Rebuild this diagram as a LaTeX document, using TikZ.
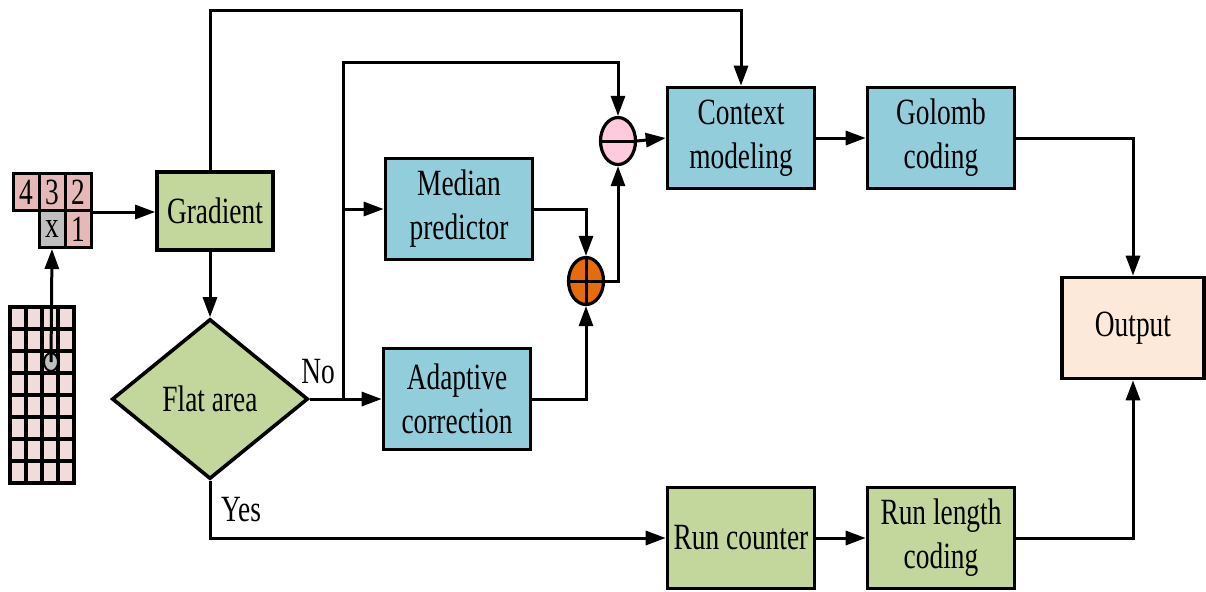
\documentclass[tikz,border=0pt]{standalone}
\usepackage{fontspec}
\setmainfont{Liberation Serif}[FakeStretch=0.74]
\usetikzlibrary{shapes.geometric, arrows.meta, positioning, calc}
\definecolor{boxblue}{HTML}{92CDDC}
\definecolor{boxgreen}{HTML}{C3D69B}
\definecolor{boxpeach}{HTML}{FDE9D9}
\definecolor{cellpink}{HTML}{E6B8B7}
\definecolor{gridpink}{HTML}{F2DCDB}
\definecolor{cellgray}{HTML}{BFBFBF}
\definecolor{plusorange}{HTML}{E46C0A}
\definecolor{minuspink}{HTML}{FFC9DE}
\tikzset{
    box/.style={draw=black, line width=1.8pt, fill=boxblue, align=center, minimum width=73.5pt, minimum height=50.5pt, inner sep=1pt},
    greenbox/.style={box, fill=boxgreen},
    cell/.style={draw=black, line width=1.5pt, fill=cellpink, minimum width=13pt, minimum height=18.5pt, inner sep=0pt},
    op/.style={ellipse, draw=black, line width=1.6pt, minimum width=17.5pt, minimum height=23.5pt, inner sep=0pt},
    arrow/.style={-{Triangle[length=10pt, width=7pt]}, line width=1.5pt},
    line/.style={line width=1.5pt}
}

\begin{document}
\begin{tikzpicture}[x=0.5pt, y=-0.5pt, font=\fontsize{18.5pt}{22pt}\selectfont]
        \useasboundingbox (0,0) rectangle (1206,591);
        % image grid
        \foreach \r in {0,...,7}
            \foreach \c in {0,...,3}
                \draw [line width=1.8pt, fill=gridpink] (10+16*\c, 307+22*\r) rectangle ++(16,22);
        \node [ellipse, draw=black, line width=1pt, fill=cellgray, minimum width=7pt, minimum height=9pt, inner sep=0pt] (dot) at (51,362) {};
        % neighbour template
        \node [cell] (c4) at (26,192) {4};
        \node [cell] (c3) at (52,192) {3};
        \node [cell] (c2) at (78,192) {2};
        \node [cell, fill=cellgray] (cx) at (52,229) {x};
        \node [cell] (c1) at (78,229) {1};
        % blocks
        \node [greenbox, minimum width=58pt, minimum height=39pt] (grad) at (215,211) {Gradient};
        \node [diamond, draw=black, line width=1.8pt, fill=boxgreen, minimum width=98pt, minimum height=80pt, inner sep=0pt] (flat) at (210,399) {Flat area};
        \node [box] (med) at (459,209) {Median\\predictor};
        \node [box] (adp) at (457,399) {Adaptive\\correction};
        \node [op, fill=plusorange] (plus) at (586,281) {};
        \node [op, fill=minuspink] (minus) at (618,141) {};
        \node [box] (ctx) at (741,138) {Context\\modeling};
        \node [box] (gol) at (941,138) {Golomb\\coding};
        \node [box, fill=boxpeach, minimum width=71pt] (out) at (1133,328) {Output};
        \node [greenbox] (runc) at (741,538) {Run counter};
        \node [greenbox] (runl) at (941,538) {Run length\\coding};
        \draw [line] (plus.west) -- (plus.east) (plus.north) -- (plus.south);
        \draw [line] (minus.west) -- (minus.east);
        % connectors
        \coordinate (top) at (500,10);
        \coordinate (top2) at (500,62);
        \coordinate (jn) at (343,399);
        \draw [arrow] (dot.center) -- (cx.south);
        \draw [arrow] (c2.south east) -- (c2.south east -| grad.west);
        \draw [arrow] (grad.south -| flat.north) -- (flat.north);
        \draw [arrow] (grad.north -| flat.north) |- (top) -| (ctx.north);
        \draw [arrow] (flat.east) -- (adp.west);
        \draw [line] (jn) |- (top2);
        \draw [arrow] (top2) -| (minus.north);
        \draw [arrow] (jn |- med.west) -- (med.west);
        \draw [arrow] (med.east) -| (plus.north);
        \draw [arrow] (adp.east) -| (plus.south);
        \draw [arrow] (plus.east) -| (minus.south);
        \draw [arrow] (minus.east) -- (ctx.west);
        \draw [arrow] (ctx) -- (gol);
        \draw [arrow] (gol.east) -| (out.north);
        \draw [arrow] (flat.south) |- (runc.west);
        \draw [arrow] (runc) -- (runl);
        \draw [arrow] (runl.east) -| (out.south);
        \node (no) at (318,372) {No};
        \node (yes) at (241,510) {Yes};
    \end{tikzpicture}
\end{document}
